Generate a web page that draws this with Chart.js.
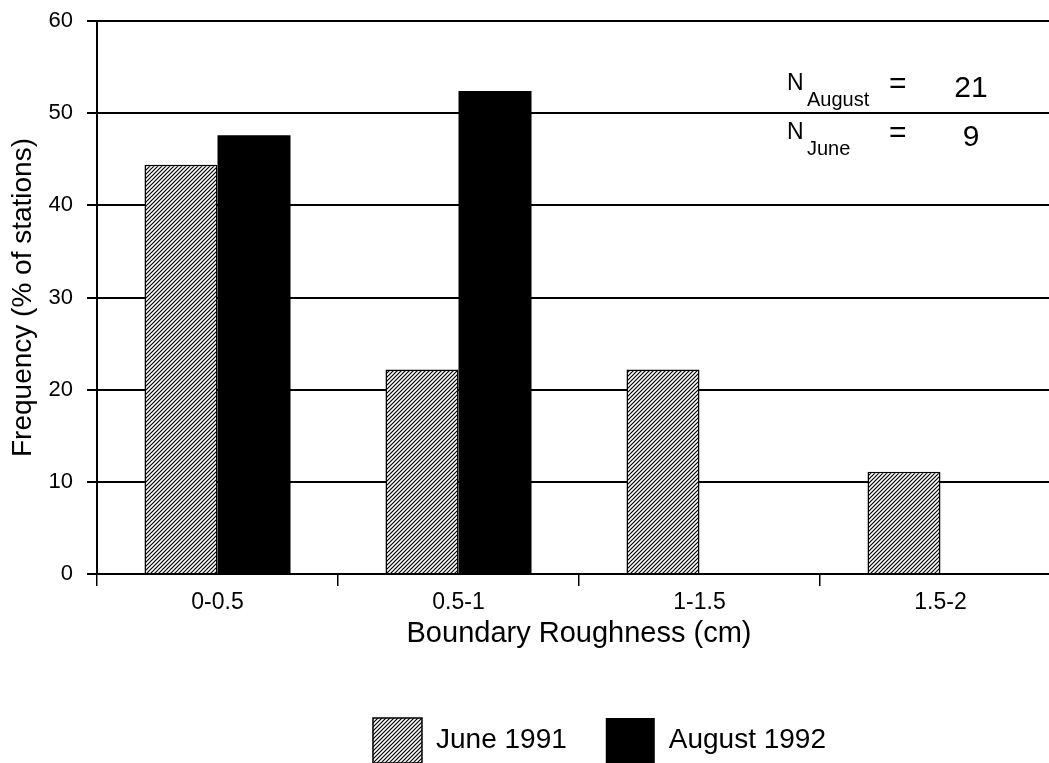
<!DOCTYPE html>
<html>
<head>
<meta charset="utf-8">
<script src="https://cdn.jsdelivr.net/npm/chart.js@4/dist/chart.umd.min.js"></script>
<style>
  html, body { margin: 0; padding: 0; background: #ffffff; overflow: hidden; }
  #wrap { position: relative; width: 1061px; height: 773px; }
</style>
</head>
<body>
<div id="wrap"><canvas id="c"></canvas></div>
<script>
const categories = ['0-0.5', '0.5-1', '1-1.5', '1.5-2'];
const june1991 = [44.4, 22.2, 22.2, 11.1];
const august1992 = [47.6, 52.4, 0, 0];
const seriesNames = ['June 1991', 'August 1992'];
const yTicks = [0, 10, 20, 30, 40, 50, 60];
const sampleSizes = [['August', '21'], ['June', '9']];

const FONT = "'Liberation Sans', Arial, sans-serif";

function makeHatch() {
  const s = 4;
  const p = document.createElement('canvas');
  p.width = s; p.height = s;
  const g = p.getContext('2d');
  g.fillStyle = '#ffffff';
  g.fillRect(0, 0, s, s);
  g.strokeStyle = '#000000';
  g.lineWidth = 1.2;
  g.beginPath();
  g.moveTo(-1, s + 1); g.lineTo(s + 1, -1);
  g.moveTo(-1, 1); g.lineTo(1, -1);
  g.moveTo(s - 1, s + 1); g.lineTo(s + 1, s - 1);
  g.stroke();
  return document.getElementById('c').getContext('2d').createPattern(p, 'repeat');
}
const hatch = makeHatch();

const annotationPlugin = {
  id: 'nAnnot',
  afterDatasetsDraw(chart) {
    const ctx = chart.ctx;
    ctx.save();
    ctx.fillStyle = '#000';
    ctx.textBaseline = 'alphabetic';
    const baselines = [90, 139];
    sampleSizes.forEach((row, i) => {
      const by = baselines[i];
      ctx.textAlign = 'left';
      ctx.font = '23px ' + FONT;
      ctx.fillText('N', 787, by);
      ctx.font = '20px ' + FONT;
      ctx.fillText(row[0], 807, by + 16);
      ctx.font = '30px ' + FONT;
      ctx.fillText('=', 889, by + 3);
      ctx.textAlign = 'center';
      ctx.font = '30px ' + FONT;
      ctx.fillText(row[1], 971, by + 7);
    });
    ctx.restore();
  }
};

const legendShift = {
  id: 'legendShift',
  afterLayout(chart) {
    const dx = 69;
    chart.legend.left += dx;
    chart.legend.right += dx;
  }
};

new Chart(document.getElementById('c'), {
  type: 'bar',
  data: {
    labels: categories,
    datasets: [
      {
        label: seriesNames[0],
        data: june1991,
        backgroundColor: hatch,
        borderColor: '#000',
        borderWidth: 1.5,
        categoryPercentage: 0.606,
        barPercentage: 1.0
      },
      {
        label: seriesNames[1],
        data: august1992,
        backgroundColor: '#000',
        borderColor: '#000',
        borderWidth: 0,
        categoryPercentage: 0.606,
        barPercentage: 1.0
      }
    ]
  },
  options: {
    responsive: true,
    maintainAspectRatio: false,
    animation: false,
    devicePixelRatio: 1,
    layout: { padding: { top: 21, right: 0, bottom: 0, left: 0 } },
    plugins: {
      tooltip: { enabled: false },
      legend: {
        position: 'bottom',
        labels: {
          boxWidth: 49,
          boxHeight: 45,
          padding: 39,
          color: '#000',
          font: { family: FONT, size: 28 }
        }
      }
    },
    scales: {
      x: {
        offset: true,
        grid: {
          display: true,
          drawOnChartArea: false,
          drawTicks: true,
          tickLength: 12,
          color: '#000',
          lineWidth: 1.5,
          offset: true
        },
        border: { display: true, color: '#000', width: 2 },
        ticks: {
          color: '#000',
          font: { family: FONT, size: 23 },
          padding: 3,
          maxRotation: 0
        },
        title: {
          display: true,
          text: 'Boundary Roughness (cm)',
          color: '#000',
          font: { family: FONT, size: 29 },
          padding: { top: 0, bottom: 28 }
        },
        afterFit(scale) { scale.height = 105; }
      },
      y: {
        min: 0,
        max: 60,
        afterBuildTicks(scale) { scale.ticks = yTicks.map(v => ({ value: v })); },
        grid: {
          color: '#000',
          lineWidth: 2,
          drawTicks: true,
          tickLength: 10
        },
        border: { display: true, color: '#000', width: 2 },
        ticks: {
          color: '#000',
          font: { family: FONT, size: 22 },
          padding: 14
        },
        title: {
          display: true,
          text: 'Frequency (% of stations)',
          color: '#000',
          font: { family: FONT, size: 28 },
          padding: { top: 6, bottom: 0 }
        },
        afterFit(scale) {
          scale.width = 97;
          scale.paddingTop = 0;
          scale.paddingBottom = 0;
        }
      }
    }
  },
  plugins: [annotationPlugin, legendShift]
});
</script>
</body>
</html>
